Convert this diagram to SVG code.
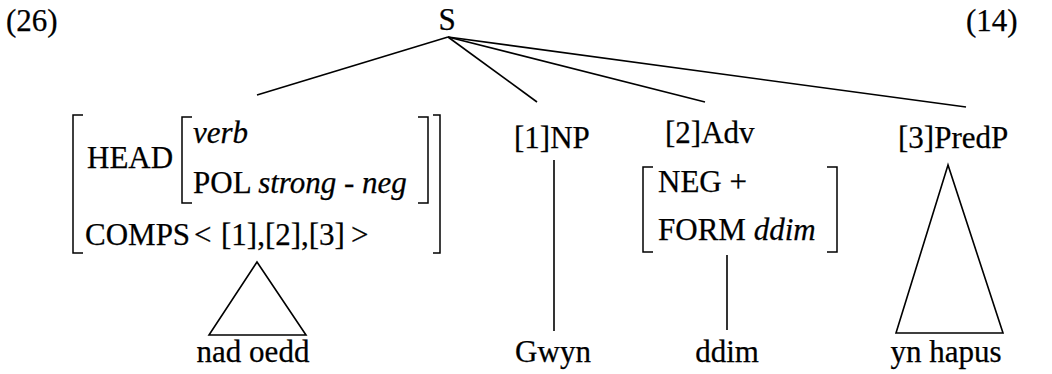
<svg xmlns="http://www.w3.org/2000/svg" width="1052" height="374" viewBox="0 0 1052 374" font-family="'Liberation Serif', Tinos, 'DejaVu Serif', serif">
<style>
text{font-family:'Liberation Serif',Tinos,'DejaVu Serif',serif;font-size:31px;fill:#000;stroke:#000;stroke-width:0.25}
.i{font-style:italic}
.ln{stroke:#000;stroke-width:1.6;fill:none;stroke-linecap:butt}
.br{stroke:#000;stroke-width:1.5;fill:none}
</style>
<rect width="1052" height="374" fill="#fff"/>
<text x="6" y="31">(26)</text>
<text x="966" y="31">(14)</text>
<g id="connectors">
<line class="ln" x1="448" y1="37" x2="257" y2="95"/>
<line class="ln" x1="448" y1="37" x2="537" y2="102"/>
<line class="ln" x1="448" y1="37" x2="705" y2="102"/>
<line class="ln" x1="448" y1="37" x2="966" y2="107"/>
<polygon class="ln" points="257,262 209,335 306,335"/>
<line class="ln" x1="554" y1="160" x2="554" y2="331"/>
<line class="ln" x1="727" y1="255" x2="727" y2="330"/>
<polygon class="ln" points="948,165 896,333 1003,333"/>
</g>
<g id="S"><text x="447" y="30" text-anchor="middle">S</text></g>
<g id="avm-verb">
<path class="br" d="M83,115H73V253H83"/>
<path class="br" d="M433,115H440V253H433"/>
<path class="br" d="M192,117H182V203H192"/>
<path class="br" d="M418,117H428V203H418"/>
<text x="87" y="168">HEAD</text>
<text x="193" y="143" class="i">verb</text>
<text x="193" y="193">POL <tspan class="i">strong - neg</tspan></text>
<text y="245"><tspan x="85">COMPS</tspan><tspan x="194">&lt;</tspan><tspan x="221">[1],[2],[3]</tspan><tspan x="351">&gt;</tspan></text>
</g>
<g id="nad-oedd"><text x="253" y="362" text-anchor="middle">nad oedd</text></g>
<g id="NP"><text x="514" y="148">[1]NP</text></g>
<g id="Gwyn"><text x="553" y="362" text-anchor="middle">Gwyn</text></g>
<g id="Adv">
<text x="665" y="143">[2]Adv</text>
<path class="br" d="M653,167H643V252H653"/>
<path class="br" d="M827,167H837V252H827"/>
<text x="658" y="192">NEG +</text>
<text x="658" y="240">FORM <tspan class="i">ddim</tspan></text>
</g>
<g id="ddim"><text x="727" y="362" text-anchor="middle">ddim</text></g>
<g id="PredP"><text x="898" y="148">[3]PredP</text></g>
<g id="yn-hapus"><text x="946" y="362" text-anchor="middle">yn hapus</text></g>
</svg>
